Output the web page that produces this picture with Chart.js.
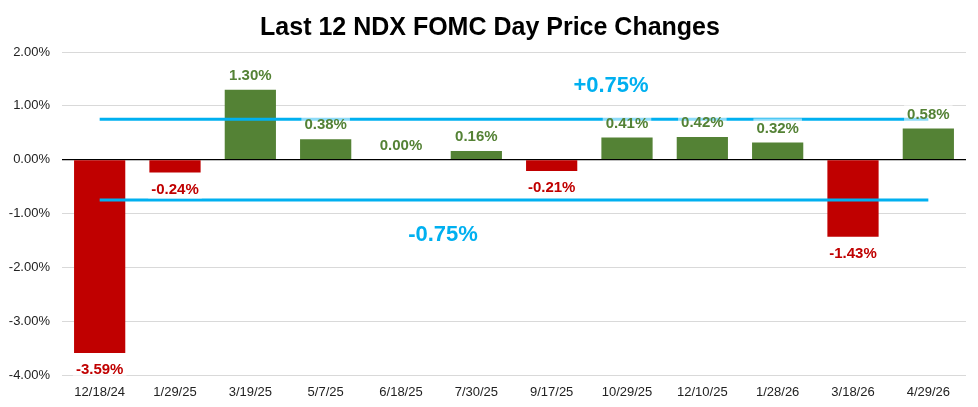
<!DOCTYPE html>
<html><head><meta charset="utf-8">
<script src="https://cdn.jsdelivr.net/npm/chart.js@4/dist/chart.umd.min.js"></script>
<style>html,body{margin:0;padding:0;background:#fff}#wrap{width:978px;height:407px}</style>
</head><body><div id="wrap"><canvas id="c" width="978" height="407"></canvas></div>
<script>
const categories = ['12/18/24','1/29/25','3/19/25','5/7/25','6/18/25','7/30/25','9/17/25','10/29/25','12/10/25','1/28/26','3/18/26','4/29/26'];
const changes = [-3.59,-0.24,1.30,0.38,0.00,0.16,-0.21,0.41,0.42,0.32,-1.43,0.58];
const upperBand = categories.map(() => 0.75);
const lowerBand = categories.map(() => -0.75);
const yTicks = [2,1,0,-1,-2,-3,-4];
const titleText = 'Last 12 NDX FOMC Day Price Changes';

const GREEN = '#548235', RED = '#C00000', BLUE = '#00B0F0';
const FONT = '"Liberation Sans", Arial, sans-serif';

const overlay = {
  id: 'overlay',
  afterDatasetsDraw(chart) {
    const ctx = chart.ctx;
    ctx.save();
    ctx.font = 'bold 22px ' + FONT;
    ctx.fillStyle = BLUE; ctx.textAlign = 'center'; ctx.textBaseline = 'middle';
    ctx.fillText('+0.75%', 611, 86);
    ctx.fillText('-0.75%', 443, 235);
    const meta = chart.getDatasetMeta(0);
    ctx.font = 'bold 15px ' + FONT;
    meta.data.forEach((bar, i) => {
      const v = changes[i];
      const txt = v.toFixed(2) + '%';
      const y = v >= 0 ? bar.y - 15 : bar.y + 16;
      const w = ctx.measureText(txt).width;
      ctx.fillStyle = 'rgba(255,255,255,0.55)';
      ctx.fillRect(bar.x - w/2 - 3, y - 9, w + 6, 19);
      ctx.fillStyle = v >= 0 ? GREEN : RED;
      ctx.fillText(txt, bar.x, y + 1);
    });
    ctx.font = 'bold 25px ' + FONT;
    ctx.fillStyle = '#000';
    ctx.fillText(titleText, 490, 28);
    ctx.restore();
  }
};

new Chart(document.getElementById('c'), {
  data: {
    labels: categories,
    datasets: [
      { type: 'bar', data: changes, backgroundColor: changes.map(v => v >= 0 ? GREEN : RED),
        barPercentage: 0.68, categoryPercentage: 1.0, order: 2 },
      { type: 'line', data: upperBand, borderColor: BLUE, borderWidth: 3, pointRadius: 0, fill: false, order: 1 },
      { type: 'line', data: lowerBand, borderColor: BLUE, borderWidth: 3, pointRadius: 0, fill: false, order: 1 }
    ]
  },
  options: {
    responsive: false, animation: false, devicePixelRatio: 1,
    layout: { padding: { top: 52, right: 12, bottom: 4, left: 0 } },
    plugins: { legend: { display: false }, tooltip: { enabled: false }, title: { display: false } },
    scales: {
      x: { grid: { display: false, drawTicks: false }, border: { display: false },
           afterFit: (s) => { s.height = 28; },
           ticks: { color: '#222', font: { family: FONT, size: 13 }, padding: 10, maxRotation: 0 } },
      y: { min: -4, max: 2, afterBuildTicks: (s) => { s.ticks = yTicks.map(v => ({ value: v })); },
           afterFit: (s) => { s.width = 62; },
           grid: { color: (c) => c.tick && c.tick.value === 0 ? '#000' : '#d9d9d9', lineWidth: (c) => c.tick && c.tick.value === 0 ? 1.2 : 1, drawTicks: false },
           border: { display: false },
           ticks: { color: '#222', font: { family: FONT, size: 13 }, padding: 12, callback: (v) => v.toFixed(2) + '%' } }
    }
  },
  plugins: [overlay]
});
</script></body></html>
